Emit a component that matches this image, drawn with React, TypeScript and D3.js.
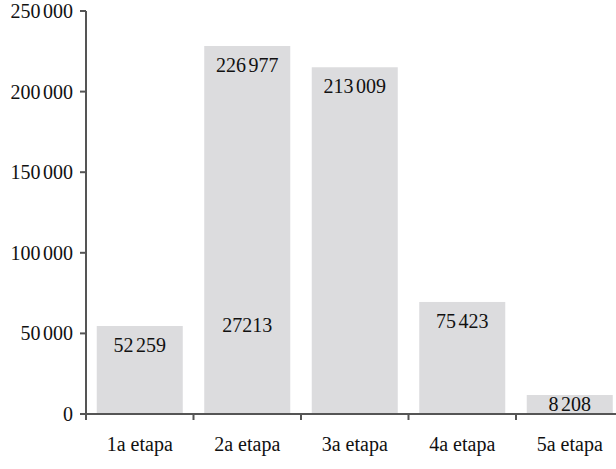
import React from "react";
import * as d3 from "d3";

const categories = ["1a etapa", "2a etapa", "3a etapa", "4a etapa", "5a etapa"];
const barValues = [54600, 228300, 215100, 69500, 11800];
const labelTexts = ["52259", "226977", "213009", "75423", "8208"];
// extra label inside the 2a etapa bar
const extraLabelCategory = "2a etapa";
const extraLabelText = "27213";
const extraLabelAnchor = 67000;
const yTicks = [0, 50000, 100000, 150000, 200000, 250000];

const W = 616;
const H = 469;
const x0 = 86;
const yTop = 11;
const yBottom = 414;

function Num({ v }: { v: string }) {
  if (v.length < 4) return <>{v}</>;
  const a = v.slice(0, v.length - 3);
  const b = v.slice(v.length - 3);
  return (
    <>
      <tspan>{a}</tspan>
      <tspan dx={2.5}>{b}</tspan>
    </>
  );
}

export default function App() {
  const x = d3.scaleBand<string>().domain(categories).range([x0, 623.5]).paddingInner(0.2).paddingOuter(0.1);
  const y = d3.scaleLinear().domain([0, 250000]).range([yBottom, yTop]);
  const step = x.step();
  const font = "'Liberation Serif', 'Times New Roman', serif";
  const fs = 20;
  const axisColor = "#555";
  return (
    <svg width={W} height={H} style={{ position: "absolute", left: 0, top: 0, background: "#fff" }}>
      {categories.map((c, i) => {
        const top = y(barValues[i]);
        const base = Math.min(top + 26, yBottom - 3);
        return (
          <g key={c}>
            <rect x={x(c)} y={top} width={x.bandwidth()} height={yBottom - top} fill="#dcdcde" />
            <text x={(x(c) as number) + x.bandwidth() / 2} y={base} textAnchor="middle" fontFamily={font} fontSize={fs} fill="#111">
              <Num v={labelTexts[i]} />
            </text>
          </g>
        );
      })}
      <text
        x={(x(extraLabelCategory) as number) + x.bandwidth() / 2}
        y={y(extraLabelAnchor) + 26}
        textAnchor="middle"
        fontFamily={font}
        fontSize={fs}
        fill="#111"
      >
        {extraLabelText}
      </text>
      {/* y axis */}
      <line x1={x0} x2={x0} y1={yTop} y2={yBottom} stroke={axisColor} strokeWidth={2} />
      {yTicks.map((t) => (
        <g key={t}>
          <line x1={x0 - 6} x2={x0} y1={y(t)} y2={y(t)} stroke={axisColor} strokeWidth={2} />
          <text x={x0 - 13} y={y(t)} dy="0.35em" textAnchor="end" fontFamily={font} fontSize={fs} fill="#111">
            <Num v={String(t)} />
          </text>
        </g>
      ))}
      {/* x axis */}
      <line x1={x0} x2={W} y1={yBottom} y2={yBottom} stroke={axisColor} strokeWidth={2} />
      {categories.map((c, i) => (
        <g key={c}>
          <line x1={x0 + step * i} x2={x0 + step * i} y1={yBottom} y2={yBottom + 6} stroke={axisColor} strokeWidth={2} />
          <text x={(x(c) as number) + x.bandwidth() / 2} y={451} textAnchor="middle" fontFamily={font} fontSize={fs} fill="#111">
            {c}
          </text>
        </g>
      ))}
    </svg>
  );
}
